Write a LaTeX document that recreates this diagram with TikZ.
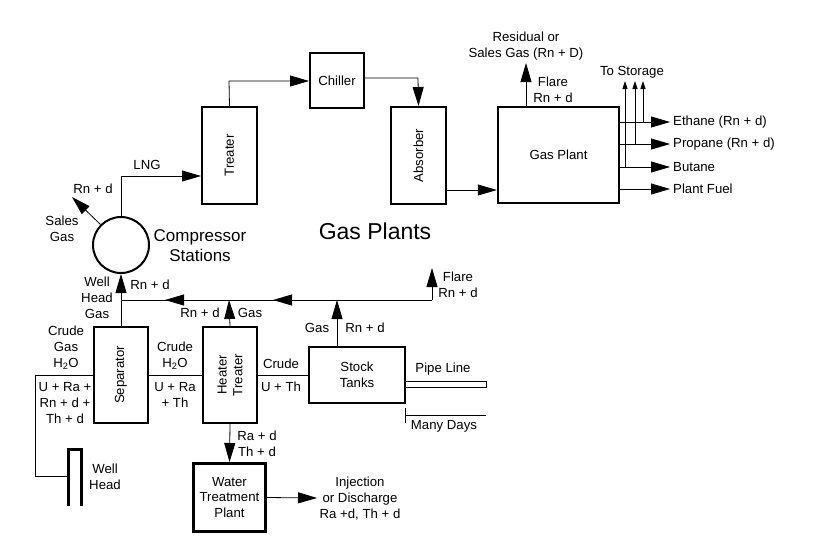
\documentclass[tikz,border=0pt]{standalone}
\usepackage{fontspec}
\setmainfont{Liberation Sans}
\usetikzlibrary{arrows.meta}
\tikzset{
  lbl/.style={font=\fontsize{13.2}{15.8}\selectfont, align=center, inner sep=0pt},
  box/.style={draw, line width=2pt, inner sep=0pt, font=\fontsize{13.2}{15.8}\selectfont, align=center},
  conn/.style={line width=0.8pt},
  arr/.style={conn, -{Triangle[length=19pt,width=11pt]}},
  sarr/.style={conn, -{Triangle[length=8pt,width=5pt]}},
}
\begin{document}
\begin{tikzpicture}[x=1pt,y=-1pt]
\useasboundingbox (0,0) rectangle (830,558);
% boxes
\node[box, minimum width=54pt, minimum height=96pt] (sep) at (121,375) {};
\node[lbl, rotate=90] at (sep.center) {Separator};
\node[box, minimum width=54pt, minimum height=96pt] (heat) at (230,375) {};
\node[lbl, rotate=90] at (heat.center) {Heater\\Treater};
\node[box, line width=3pt, minimum width=72pt, minimum height=68pt] (water) at (229.5,497.5) {Water\\Treatment\\Plant};
\node[box, minimum width=96pt, minimum height=56pt] (stock) at (357,375) {Stock\\Tanks};
\node[box, minimum width=55pt, minimum height=97pt] (treat) at (229.5,155.5) {};
\node[lbl, rotate=90] at (treat.center) {Treater};
\node[box, minimum width=54pt, minimum height=55pt] (chill) at (337,80.5) {Chiller};
\node[box, minimum width=55pt, minimum height=97pt] (absb) at (418.5,155.5) {};
\node[lbl, rotate=90] at (absb.center) {Absorber};
\node[box, line width=2.5pt, minimum width=121pt, minimum height=96pt] (gp) at (558.5,155) {Gas Plant};
\node[draw, circle, line width=2pt, minimum size=56pt, inner sep=0pt] (comp) at (121,245) {};

% coordinates
\coordinate (jl) at (121,300);
\coordinate (jr) at (432,300);
\coordinate (flare) at (432,268);
\coordinate (m1s) at (185,300); \coordinate (m1t) at (165,300);
\coordinate (m2s) at (292,300); \coordinate (m2t) at (273,300);
\coordinate (hgas) at (229,300);
\coordinate (sgas0) at (337,347); \coordinate (sgas) at (337,300);
\coordinate (w1) at (35,375); \coordinate (w2) at (35,476); \coordinate (w3) at (67,476);
\coordinate (inj) at (317,498);
\coordinate (sales) at (72,197);
\coordinate (lng) at (121,176);
\coordinate (tc) at (229,81);
\coordinate (ca) at (418,78);
\coordinate (res) at (526,63);
\coordinate (e1) at (670,122); \coordinate (e2) at (670,144);
\coordinate (e3) at (670,167); \coordinate (e4) at (670,189);
\coordinate (s1) at (643,81); \coordinate (s2) at (635,81); \coordinate (s3) at (625,81);
\coordinate (wh1) at (68,506); \coordinate (wh2) at (68,449.5);
\coordinate (wh3) at (81,449.5); \coordinate (wh4) at (81,506);
\coordinate (p1) at (405,381); \coordinate (p2) at (486,387);
\coordinate (md1) at (405,408); \coordinate (md2) at (405,423);
\coordinate (md3) at (486,415);

% lower connectors
\draw[arr] (sep.north) -- (comp.south);
\draw[conn] (jl) -- (jr);
\draw[arr] (jr) -- (flare);
\draw[arr] (m1s) -- (m1t);
\draw[arr] (m2s) -- (m2t);
\draw[arr] (heat.north) -- (hgas);
\draw[arr] (sgas0) -- (sgas);
\draw[conn] (w3) -- (w2) -- (w1) -- (sep.west);
\draw[conn] (sep.east) -- (heat.west);
\draw[conn] (heat.east) -- (heat.east -| stock.west);
\draw[conn] (p1) rectangle (p2);
\draw[conn] (md1) -- (md2);
\draw[conn] (md1 |- md3) -- (md3);
\draw[arr] (heat.south) -- (water.north);
\draw[arr] (water.east) -- (inj);
\draw[line width=3pt, line join=miter] (wh1) -- (wh2) -- (wh3) -- (wh4);

% upper connectors
\draw[arr] (comp.135) -- (sales);
\draw[arr] (comp.north) -- (lng) -- (lng -| treat.west);
\draw[arr] (treat.north) -- (tc) -- (tc -| chill.west);
\draw[arr] (chill.east |- 0,78) -- (ca) -- (absb.north);
\draw[arr] (absb.east |- 0,190) -- (gp.west |- 0,190);
\draw[arr] (gp.north -| res) -- (res);
\draw[arr] (gp.east |- e1) -- (e1);
\draw[arr] (gp.east |- e2) -- (e2);
\draw[arr] (gp.east |- e3) -- (e3);
\draw[arr] (gp.east |- e4) -- (e4);
\draw[sarr] (s1 |- e1) -- (s1);
\draw[sarr] (s2 |- e2) -- (s2);
\draw[sarr] (s3 |- e3) -- (s3);

% labels
\node[lbl] (tres) at (526,46) {Residual or\\Sales Gas (Rn + D)};
\node[lbl] (tflare1) at (553,89.5) {Flare\\Rn + d};
\node[lbl] (tstor) at (632,72) {To Storage};
\node[lbl, anchor=west] (teth) at (673,122) {Ethane (Rn + d)};
\node[lbl, anchor=west] (tpro) at (673,144) {Propane (Rn + d)};
\node[lbl, anchor=west] (tbut) at (673,167) {Butane};
\node[lbl, anchor=west] (tfuel) at (673,189) {Plant Fuel};
\node[lbl, font=\fontsize{23}{27}\selectfont] (tgp) at (375,231) {Gas Plants};
\node[lbl, font=\fontsize{17}{20}\selectfont] (tcomp) at (200,246) {Compressor\\Stations};
\node[lbl] (trn1) at (93,189) {Rn + d};
\node[lbl] (tsales) at (62,229) {Sales\\Gas};
\node[lbl] (tlng) at (147,165) {LNG};
\node[lbl] (twhg) at (97,298) {Well\\Head\\Gas};
\node[lbl] (trn2) at (150,285) {Rn + d};
\node[lbl] (trn3) at (200,313) {Rn + d};
\node[lbl] (tgas1) at (250,313) {Gas};
\node[lbl] (tgas2) at (317,328) {Gas};
\node[lbl] (trn4) at (365,328) {Rn + d};
\node[lbl] (tflare2) at (458,284.5) {Flare\\Rn + d};
\node[lbl] (tcg) at (66,348) {Crude\\Gas\\H\textsubscript{2}O};
\node[lbl] (turn) at (65,403) {U + Ra +\\Rn + d +\\Th + d};
\node[lbl] (tch) at (175,356) {Crude\\H\textsubscript{2}O};
\node[lbl] (tura) at (175,395) {U + Ra\\+ Th};
\node[lbl] (tcr) at (281,364) {Crude};
\node[lbl] (tuth) at (281,387) {U + Th};
\node[lbl] (tpipe) at (443,369) {Pipe Line};
\node[lbl] (tmany) at (444,426) {Many Days};
\node[lbl] (trath) at (257,444) {Ra + d\\Th + d};
\node[lbl] (tinj) at (360,498.5) {Injection\\or Discharge\\Ra +d, Th + d};
\node[lbl] (twh) at (105,476.5) {Well\\Head};
\end{tikzpicture}
\end{document}
